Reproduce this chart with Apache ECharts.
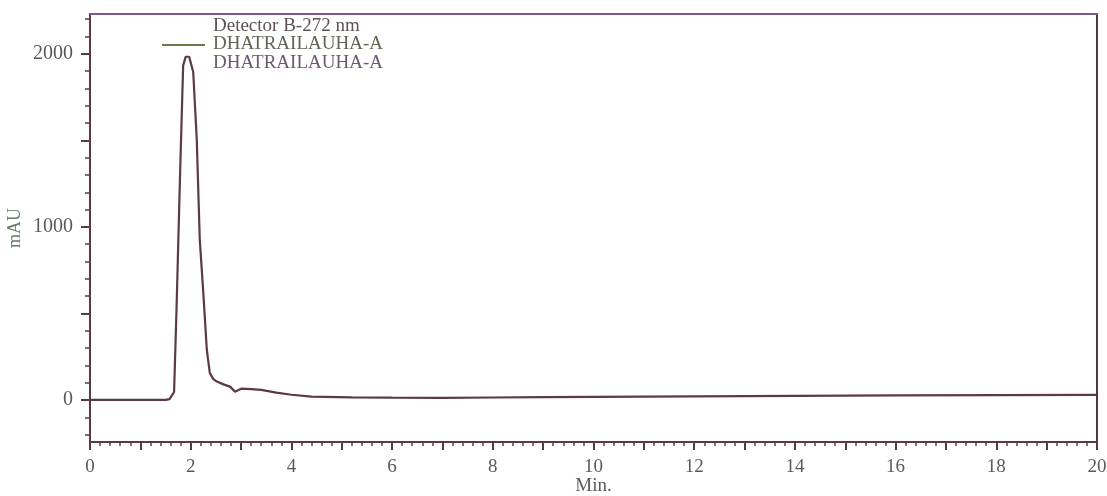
<!DOCTYPE html>
<html><head><meta charset="utf-8">
<script src="https://cdn.jsdelivr.net/npm/echarts@6/dist/echarts.min.js"></script>
<style>html,body{margin:0;padding:0;background:#fff}#c{width:1107px;height:496px}</style>
</head><body><div id="c"></div>
<script>
const timeMin = [0, 0.5, 1.0, 1.5, 1.58, 1.67, 1.72, 1.79, 1.85, 1.9, 1.97, 2.05, 2.12, 2.18, 2.25, 2.32, 2.38, 2.45, 2.52, 2.65, 2.78, 2.88, 3.0, 3.2, 3.4, 3.7, 4.0, 4.4, 5.2, 6, 7, 8, 9, 10, 12, 14, 16, 18, 20];
const mAU = [0, 0, 0, 0, 5, 46, 541, 1314, 1932, 1983, 1983, 1895, 1507, 928, 620, 290, 155, 120, 106, 90, 77, 48, 65, 62, 58, 42, 30, 19, 15, 13, 12, 14, 16, 18, 21, 24, 26, 28, 29];
const yLabelValues = [0, 1000, 2000];
const yMajorTicks = [0, 500, 1000, 1500, 2000];
const yMinorTicks = [-200, -100, 100, 200, 300, 400, 600, 700, 800, 900, 1100, 1200, 1300, 1400, 1600, 1700, 1800, 1900, 2100, 2200];
const legendTitle = 'Detector B-272 nm';
const seriesNames = ['DHATRAILAUHA-A', 'DHATRAILAUHA-A'];
const xTitle = 'Min.';
const yTitle = 'mAU';

const axisColor = '#5b3a48';
const labelColor = '#5a5a5a';
const font = 'Liberation Serif';
const yMin = -243, yMax = 2230;

const chart = echarts.init(document.getElementById('c'), null, {renderer: 'canvas'});
chart.setOption({
  animation: false,
  backgroundColor: '#ffffff',
  grid: {left: 90, right: 10, top: 14, bottom: 54, show: false, containLabel: false, outerBoundsMode: 'none'},
  xAxis: [{
    type: 'value', min: 0, max: 20, interval: 1, position: 'bottom',
    axisLine: {show: true, onZero: false, lineStyle: {color: axisColor, width: 2}},
    axisTick: {show: true, length: 8, lineStyle: {color: axisColor, width: 2}},
    minorTick: {show: true, splitNumber: 5, length: 4, lineStyle: {color: axisColor, width: 1.5}},
    axisLabel: {color: labelColor, fontFamily: font, fontSize: 19, margin: 16,
      formatter: v => (v % 2 === 0 ? String(v) : '')},
    splitLine: {show: false},
    name: xTitle, nameLocation: 'middle', nameGap: 35, nameMoveOverlap: false,
    nameTextStyle: {color: labelColor, fontFamily: font, fontSize: 19}
  }, {
    type: 'value', min: 0, max: 20, position: 'top',
    axisLine: {show: true, onZero: false, lineStyle: {color: '#7e5a8c', width: 2}},
    axisTick: {show: false}, axisLabel: {show: false}, splitLine: {show: false}
  }],
  yAxis: [{
    type: 'value', min: yMin, max: yMax, position: 'left',
    axisLine: {show: true, onZero: false, lineStyle: {color: axisColor, width: 2}},
    axisTick: {show: true, length: 9, customValues: yMajorTicks, lineStyle: {color: axisColor, width: 2}},
    axisLabel: {color: labelColor, fontFamily: font, fontSize: 20, margin: 17, customValues: yLabelValues,
      formatter: v => String(v)},
    splitLine: {show: false},
    name: yTitle, nameLocation: 'middle', nameGap: 66, nameRotate: 90, nameMoveOverlap: false,
    nameTextStyle: {color: '#5f7d62', fontFamily: font, fontSize: 18}
  }, {
    type: 'value', min: yMin, max: yMax, position: 'left',
    axisLine: {show: false},
    axisTick: {show: true, length: 5, customValues: yMinorTicks, lineStyle: {color: axisColor, width: 1.5}},
    axisLabel: {show: false}, splitLine: {show: false}
  }, {
    type: 'value', min: yMin, max: yMax, position: 'right',
    axisLine: {show: true, onZero: false, lineStyle: {color: '#4e3840', width: 2}},
    axisTick: {show: false}, axisLabel: {show: false}, splitLine: {show: false}
  }],
  series: [{
    name: seriesNames[0], type: 'line', xAxisIndex: 0, yAxisIndex: 0,
    data: timeMin.map((t, i) => [t, mAU[i]]),
    showSymbol: false, smooth: false,
    lineStyle: {color: '#5c3a42', width: 2.2}
  }],
  graphic: [
    {type: 'line', shape: {x1: 162, y1: 45, x2: 205, y2: 45}, style: {stroke: '#6b7a45', lineWidth: 2}},
    {type: 'text', left: 213, top: 17, style: {text: legendTitle, fill: '#5e5252', font: '19px "Liberation Serif"'}},
    {type: 'text', left: 213, top: 35, style: {text: seriesNames[0], fill: '#5e6655', font: '19px "Liberation Serif"'}},
    {type: 'text', left: 213, top: 54, style: {text: seriesNames[1], fill: '#6e5872', font: '19px "Liberation Serif"'}}
  ]
});
</script></body></html>
